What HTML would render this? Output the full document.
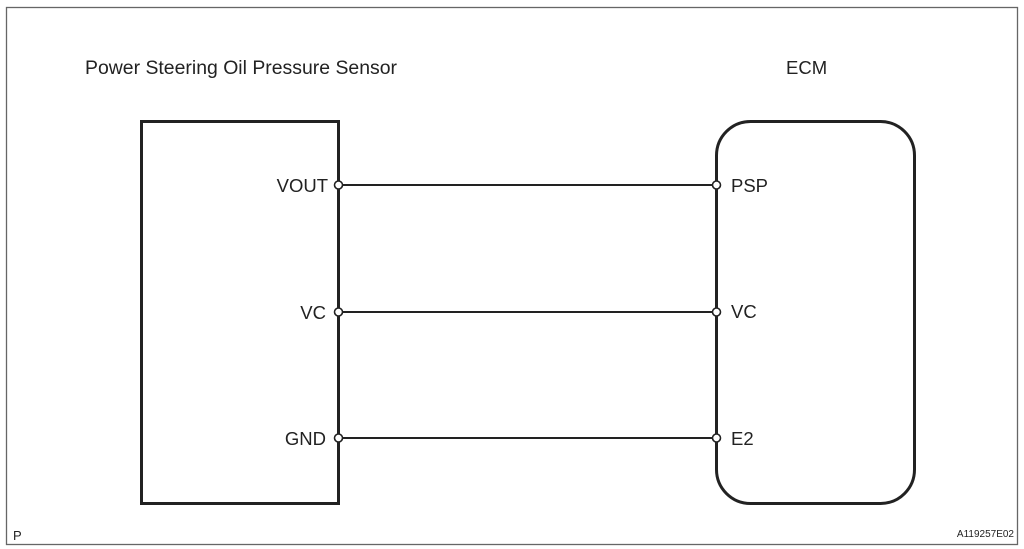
<!DOCTYPE html>
<html><head><style>
html,body{margin:0;padding:0;background:#fff;}
svg{display:block;}
text{font-family:"Liberation Sans",Arial,sans-serif;fill:#222;}
</style></head><body>
<svg width="1024" height="549" viewBox="0 0 1024 549" xmlns="http://www.w3.org/2000/svg">
<rect x="6.5" y="7.5" width="1011" height="537" fill="none" stroke="#666" stroke-width="1.3"/>
<text x="85" y="74" font-size="19" textLength="312" lengthAdjust="spacingAndGlyphs">Power Steering Oil Pressure Sensor</text>
<text x="786" y="74" font-size="18.5">ECM</text>
<rect x="141.5" y="121.5" width="197" height="382" fill="none" stroke="#222" stroke-width="3"/>
<rect x="716.5" y="121.5" width="198" height="382" rx="34" ry="34" fill="none" stroke="#222" stroke-width="3"/>
<g stroke="#222" stroke-width="2">
<line x1="342" y1="185" x2="712" y2="185"/>
<line x1="342" y1="312" x2="712" y2="312"/>
<line x1="342" y1="438" x2="712" y2="438"/>
</g>
<g fill="#fff" stroke="#222" stroke-width="1.6">
<circle cx="338.5" cy="185" r="4"/><circle cx="338.5" cy="312" r="4"/><circle cx="338.5" cy="438" r="4"/>
<circle cx="716.5" cy="185" r="4"/><circle cx="716.5" cy="312" r="4"/><circle cx="716.5" cy="438" r="4"/>
</g>
<g font-size="18.5">
<text x="328" y="192" text-anchor="end">VOUT</text>
<text x="326" y="319" text-anchor="end">VC</text>
<text x="326" y="445" text-anchor="end">GND</text>
<text x="731" y="192">PSP</text>
<text x="731" y="318">VC</text>
<text x="731" y="445">E2</text>
</g>
<text x="13" y="540" font-size="13">P</text>
<text x="1014" y="537" font-size="10" text-anchor="end">A119257E02</text>
</svg>
</body></html>
